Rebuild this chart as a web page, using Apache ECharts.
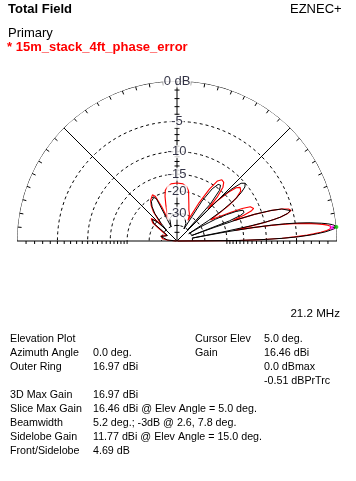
<!DOCTYPE html>
<html><head><meta charset="utf-8">
<script src="https://cdn.jsdelivr.net/npm/echarts@6/dist/echarts.min.js"></script>
<style>html,body{margin:0;padding:0;background:#fff}#c{width:356px;height:481px}</style>
</head><body><div id="c"></div>
<script>
// ---- data (elevation angle deg, gain dB relative to outer ring) ----
const primaryPattern = [[0,-99],[0.5,-16],[1,-10.2],[1.5,-6.9],[2,-4.7],[2.6,-3.0],[3,-2.2],[3.5,-1.3],[4,-0.7],[4.5,-0.2],[5,0],[5.5,-0.1],[6,-0.4],[6.5,-0.9],[7,-1.6],[7.8,-3.0],[8.5,-4.7],[9,-6.4],[9.5,-8.8],[10,-12.5],[10.5,-20],[10.8,-40],[11.2,-20],[11.6,-13],[12,-10],[12.5,-8.2],[13,-7],[14,-5.8],[15,-5.3],[16,-5.5],[17,-6.5],[18,-8.3],[19,-11.5],[19.5,-15],[20,-24],[20.4,-40],[21,-18],[22,-14.5],[23,-13.5],[24,-13.2],[25,-13.5],[26.5,-15],[28,-18],[29.5,-22],[31,-30],[32,-42],[33,-25],[34,-18.5],[35.5,-14],[37,-11.8],[38.5,-10.5],[40.3,-10],[42,-10.6],[43.5,-12.8],[45,-17],[46.5,-40],[48,-20],[50,-15.2],[52,-14],[54,-14.2],[56,-16],[58,-21],[60,-42],[63,-36],[70,-33],[80,-31],[90,-30.5],[100,-31],[108,-33],[112.5,-40],[116,-21],[118,-20.2],[120,-20.2],[123,-21],[126,-22.8],[129,-26],[132,-33],[134,-40],[136,-30],[139,-27.2],[141,-27.2],[143,-29.5],[145.5,-38],[150,-46],[156,-45],[161,-41],[164,-38.5],[167,-38.2],[170,-40],[174,-48],[180,-99]];
const errorPattern = [[0,-99],[0.5,-16.5],[1,-10.5],[1.5,-7.2],[2,-5.3],[2.6,-3.51],[3,-2.7],[3.5,-1.8],[4,-1.1],[4.5,-0.7],[5,-0.51],[5.5,-0.6],[6,-0.95],[6.5,-1.5],[7,-2.2],[7.8,-3.51],[8.5,-5.3],[9,-7],[9.5,-9.3],[10,-12.5],[10.5,-17],[11,-16],[11.5,-12.3],[12,-9.8],[12.5,-8.2],[13,-7.1],[14,-5.8],[15,-5.2],[16,-5.5],[17,-6.5],[18,-8.4],[19,-11.5],[19.6,-16],[20.2,-17],[21,-13.8],[22,-11.9],[23,-11.2],[24,-11.1],[25,-11.7],[26.5,-13.5],[28,-16.5],[30,-20.5],[32,-24],[33,-21],[34.5,-16],[36,-13.3],[38,-11.7],[40.4,-11.3],[42,-12],[43.5,-14],[45,-18],[46,-22],[47.5,-17],[49.5,-14],[51.5,-13],[53.8,-12.8],[56,-13.6],[58,-16.5],[60,-22],[62,-33],[64,-30],[66,-28.5],[69,-27],[72,-24.5],[74,-22.7],[77,-19.5],[80,-18.2],[84,-17.6],[90,-17.4],[96,-17.6],[100,-18.3],[103,-19.3],[105,-21.3],[107,-24.5],[109,-28],[111,-31],[112.5,-33],[114,-25],[116,-20],[118,-19.2],[120,-19.4],[123,-20.5],[126,-22.2],[129,-25],[132,-31],[134,-34],[136,-29],[139,-26.5],[141,-26.5],[143,-28.5],[145.5,-35],[148,-40],[153,-45],[158,-42],[162,-39],[165,-37.8],[168,-38],[171,-41],[175,-50],[180,-99]];
const ringDb = [-5, -10, -15, -20, -30, -40];
const ringLabels = ['-5', '-10', '-15', '-20', '-30', ''];
const outerLabel = '0 dB';
const radialAngles = [45, 90, 135];
const axisTickDb = [-1,-2,-3,-4,-6,-7,-8,-9,-11,-12,-13,-14,-25,-40,-50];
const baseTickDb = [-1,-2,-3,-4,-5,-6,-7,-8,-9,-10,-11,-12,-13,-14,-15,-16,-17,-18,-19,-20];
const cursor = {angle: 5, primary: 0, error: -0.51};

const infoRows = [
  ['Elevation Plot', '', 'Cursor Elev', '5.0 deg.'],
  ['Azimuth Angle', '0.0 deg.', 'Gain', '16.46 dBi'],
  ['Outer Ring', '16.97 dBi', '', '0.0 dBmax'],
  ['', '', '', '-0.51 dBPrTrc'],
  ['3D Max Gain', '16.97 dBi', '', ''],
  ['Slice Max Gain', '16.46 dBi @ Elev Angle = 5.0 deg.', '', ''],
  ['Beamwidth', '5.2 deg.; -3dB @ 2.6, 7.8 deg.', '', ''],
  ['Sidelobe Gain', '11.77 dBi @ Elev Angle = 15.0 deg.', '', ''],
  ['Front/Sidelobe', '4.69 dB', '', '']
];

// ---- helpers ----
const R = 160;
function rad(db) { return Math.pow(0.89, -db / 2); }
const toPolar = p => p.map(([a, d]) => [rad(d), a]);
const GAP = ['-', '-'];
const FONT = 'Liberation Sans, Arial, sans-serif';

function arc(r) { const o = []; for (let a = 0; a <= 180; a += 1) o.push([r, a]); return o; }
const outerTicks = [];
for (let a = 5; a < 180; a += 5) { outerTicks.push([1, a], [1 - 4 / R, a], GAP); }
const radials = [];
radialAngles.forEach(a => { radials.push([0, a], [1, a], GAP); });
radials.push([1, 0], [0, 0], [1, 180]);
const vTicks = [];
axisTickDb.forEach(d => {
  const r = rad(d); const dl = Math.atan(2.5 / (R * r)) * 180 / Math.PI; const rr = r / Math.cos(dl * Math.PI / 180);
  vTicks.push([rr, 90 - dl], [rr, 90 + dl], GAP);
});
baseTickDb.forEach(d => {
  const r = rad(d); const dl = Math.atan(3 / (R * r)) * 180 / Math.PI; const rr = r / Math.cos(dl * Math.PI / 180);
  vTicks.push([r, 0], [rr, 360 - dl], GAP, [r, 180], [rr, 180 + dl], GAP);
});

const lineBase = { type: 'line', coordinateSystem: 'polar', symbol: 'none', silent: true, animation: false, connectNulls: false };
const series = [];
series.push(Object.assign({}, lineBase, { data: arc(1), lineStyle: { color: '#000', width: 1 }, z: 2 }));
ringDb.forEach(d => series.push(Object.assign({}, lineBase, { data: arc(rad(d)), lineStyle: { color: '#000', width: 1, type: [3, 3] }, z: 2 })));
series.push(Object.assign({}, lineBase, { data: outerTicks, lineStyle: { color: '#000', width: 1 }, z: 2 }));
series.push(Object.assign({}, lineBase, { data: radials, lineStyle: { color: '#000', width: 1 }, z: 2 }));
series.push(Object.assign({}, lineBase, { data: vTicks, lineStyle: { color: '#000', width: 1 }, z: 2 }));
series.push(Object.assign({}, lineBase, { name: 'Primary', data: toPolar(primaryPattern), lineStyle: { color: '#000', width: 1 }, z: 5 }));
series.push(Object.assign({}, lineBase, { name: '15m_stack_4ft_phase_error', data: toPolar(errorPattern), lineStyle: { color: '#ff0000', width: 1.15 }, z: 4 }));
series.push({ type: 'scatter', coordinateSystem: 'polar', silent: true, animation: false, z: 8,
  data: [{ value: [rad(cursor.error), cursor.angle], symbol: 'path://M0,0L10,10M10,0L0,10', symbolSize: 4, itemStyle: { color: '#ff00ff', borderColor: '#ff00ff', borderWidth: 1.5 } },
         { value: [rad(cursor.primary), cursor.angle], symbol: 'circle', symbolSize: 4, itemStyle: { color: '#00c000' } }] });
const labelData = [{ value: [1, 90], label: { formatter: outerLabel } }];
ringDb.forEach((d, i) => { if (ringLabels[i]) labelData.push({ value: [rad(d), 90], label: { formatter: ringLabels[i] } }); });
series.push({ type: 'scatter', coordinateSystem: 'polar', silent: true, animation: false, z: 10, symbolSize: 0,
  data: labelData, label: { show: true, position: 'inside', color: '#000018', fontSize: 13, fontFamily: FONT, backgroundColor: '#fff', padding: [0, 1, 0, 1] } });

// ---- text ----
const texts = [];
function txt(x, y, s, opt) { texts.push({ type: 'text', x: x, y: y, silent: true, style: Object.assign({ text: s, fill: '#000', font: '13px ' + FONT, textVerticalAlign: 'middle' }, opt || {}) }); }
txt(8, 9, 'Total Field', { font: 'bold 13px ' + FONT });
txt(290, 9, 'EZNEC+');
txt(8, 33, 'Primary');
txt(7, 47, '* 15m_stack_4ft_phase_error', { fill: '#ff0000', font: 'bold 13px ' + FONT });
txt(340, 314, '21.2 MHz', { textAlign: 'right', font: '11.6px ' + FONT });
const colX = [10, 93, 195, 264];
infoRows.forEach((row, i) => {
  row.forEach((s, j) => { if (s) txt(colX[j], 339.5 + i * 14, s, { font: '10.7px ' + FONT }); });
});

const chart = echarts.init(document.getElementById('c'), null, { renderer: 'canvas' });
chart.setOption({
  animation: false,
  backgroundColor: '#fff',
  polar: { center: [177, 241], radius: R },
  angleAxis: { type: 'value', min: 0, max: 360, startAngle: 0, clockwise: false, show: false },
  radiusAxis: { type: 'value', min: 0, max: 1, show: false },
  series: series,
  graphic: texts
});
</script></body></html>
